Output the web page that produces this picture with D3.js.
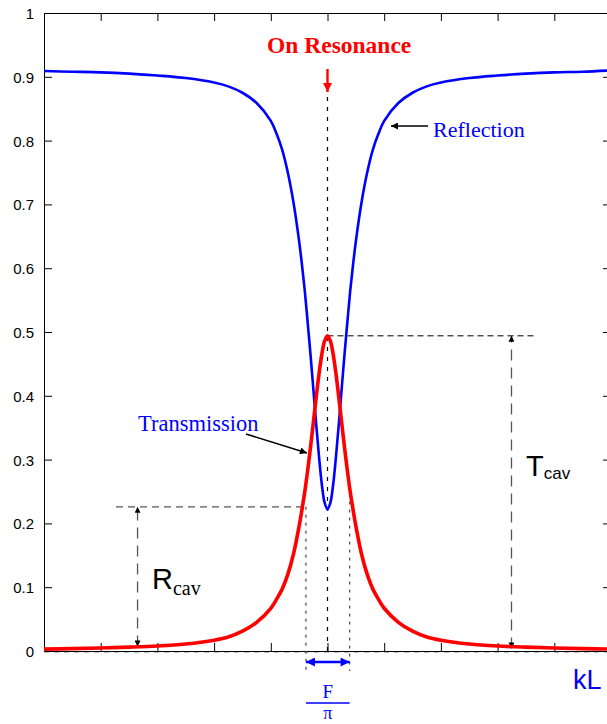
<!DOCTYPE html>
<html>
<head>
<meta charset="utf-8">
<script src="https://cdn.jsdelivr.net/npm/d3@7"></script>
<style>
  html, body { margin: 0; padding: 0; background: #fff; }
  svg { display: block; }
</style>
</head>
<body>
<svg id="chart" width="607" height="724"></svg>
<script>
// ---- data ----
const kL = [-5,-4.5,-4,-3.5,-3,-2.5,-2,-1.75,-1.5,-1.25,-1,-0.9,-0.8,-0.7,-0.6,-0.5,-0.45,-0.4,-0.35,-0.3,-0.25,-0.2,-0.15,-0.1,-0.05,0,
            0.05,0.1,0.15,0.2,0.25,0.3,0.35,0.4,0.45,0.5,0.6,0.7,0.8,0.9,1,1.25,1.5,1.75,2,2.5,3,3.5,4,4.5,5];
const reflection = [0.909,0.908,0.907,0.905,0.902,0.898,0.891,0.885,0.875,0.859,0.831,0.811,0.786,0.750,0.703,0.642,0.605,0.564,0.515,0.465,0.411,0.356,0.305,0.261,0.232,0.222,
                    0.232,0.261,0.305,0.356,0.411,0.465,0.515,0.564,0.605,0.642,0.703,0.750,0.786,0.811,0.831,0.859,0.875,0.885,0.891,0.898,0.902,0.905,0.907,0.908,0.910];
const transmission = [0.003,0.0037,0.0047,0.006,0.0078,0.011,0.017,0.022,0.031,0.045,0.067,0.081,0.097,0.120,0.152,0.196,0.222,0.250,0.283,0.319,0.358,0.397,0.434,0.465,0.486,0.494,
                      0.486,0.465,0.434,0.397,0.358,0.319,0.283,0.250,0.222,0.196,0.152,0.120,0.097,0.081,0.067,0.045,0.031,0.022,0.017,0.011,0.0078,0.006,0.0047,0.0037,0.003];
const xTicks = [-5,-4,-3,-2,-1,0,1,2,3,4,5];
const yTicks = [0,0.1,0.2,0.3,0.4,0.5,0.6,0.7,0.8,0.9,1];
const yTickLabels = ["0","0.1","0.2","0.3","0.4","0.5","0.6","0.7","0.8","0.9","1"];
const tPeak = 0.494;        // T_cav level
const rCavLevel = 0.226;    // R_cav level
const rCavX = -3.35;        // R_cav marker position
const tCavX = 3.245;        // T_cav marker position
const tLineEnd = 3.65;      // end of T_cav dashed line
const fwhmLeft = -0.38, fwhmRight = 0.39;
const fwhmLeftTop = 0.226, fwhmRightTop = 0.247;

// ---- layout ----
const svg = d3.select("#chart");
const W = 607, H = 724;
const pL = 44, pR = 611, pT = 13, pB = 651;
const x = d3.scaleLinear().domain([-5, 5]).range([pL, pR]);
const y = d3.scaleLinear().domain([0, 1]).range([pB, pT]);
const SANS = "'Liberation Sans', Arial, Helvetica, sans-serif";
const SERIF = "'Liberation Serif', 'Times New Roman', Times, serif";

svg.append("rect").attr("width", W).attr("height", H).attr("fill", "#fff");

const defs = svg.append("defs");
defs.append("clipPath").attr("id", "plotclip").append("rect")
  .attr("x", pL).attr("y", pT - 5).attr("width", pR - pL).attr("height", pB - pT + 10);
function marker(id, color, w, l) {
  defs.append("marker").attr("id", id)
    .attr("viewBox", "0 0 10 10").attr("refX", 10).attr("refY", 5)
    .attr("markerUnits", "userSpaceOnUse")
    .attr("markerWidth", l).attr("markerHeight", w)
    .attr("orient", "auto-start-reverse")
    .append("path").attr("d", "M0,0 L10,5 L0,10 Z").attr("fill", color);
}
marker("blk", "#000", 6, 8);
marker("blkBig", "#000", 7, 11);
marker("blu", "#0000ff", 9, 10);
marker("red", "#ff0000", 9, 10);

// ---- axes ----
const gL = svg.append("g").attr("transform", `translate(${pL},0)`)
  .call(d3.axisLeft(y).tickValues(yTicks).tickSize(-8).tickSizeOuter(0).tickPadding(10)
        .tickFormat((d, i) => yTickLabels[i]));
gL.selectAll("text").attr("font-family", SANS).attr("font-size", 15).attr("fill", "#000").attr("dy", "0.36em");
svg.append("g").attr("transform", `translate(${pR},0)`)
  .call(d3.axisRight(y).tickValues(yTicks).tickSize(-8).tickSizeOuter(0).tickFormat(""));
svg.append("g").attr("transform", `translate(0,${pT})`)
  .call(d3.axisTop(x).tickValues(xTicks).tickSize(-8).tickSizeOuter(0).tickFormat(""));
svg.append("line").attr("x1", pL).attr("x2", pR).attr("y1", pB + 1).attr("y2", pB + 1)
  .attr("stroke", "#777").attr("stroke-width", 1).attr("stroke-dasharray", "5,5");
svg.append("g").attr("transform", `translate(0,${pB})`)
  .call(d3.axisBottom(x).tickValues(xTicks).tickSize(-8).tickSizeOuter(0).tickFormat(""));
svg.selectAll(".domain, .tick line").attr("stroke", "#000").attr("stroke-width", 1);

// ---- annotations (behind curves) ----
svg.append("line").attr("x1", x(0)).attr("x2", x(0)).attr("y1", 97).attr("y2", pB)
  .attr("stroke", "#000").attr("stroke-width", 1.2).attr("stroke-dasharray", "4,6");
svg.append("line").attr("x1", x(0)).attr("x2", x(tLineEnd)).attr("y1", y(tPeak)).attr("y2", y(tPeak))
  .attr("stroke", "#000").attr("stroke-width", 1).attr("stroke-dasharray", "6,4");
svg.append("line").attr("x1", x(tCavX)).attr("x2", x(tCavX))
  .attr("y1", y(0.004)).attr("y2", y(tPeak))
  .attr("stroke", "#555").attr("stroke-width", 1.3).attr("stroke-dasharray", "11,7")
  .attr("marker-start", "url(#blk)").attr("marker-end", "url(#blk)");
svg.append("line").attr("x1", 116).attr("x2", x(fwhmLeft)).attr("y1", y(rCavLevel)).attr("y2", y(rCavLevel))
  .attr("stroke", "#555").attr("stroke-width", 1.2).attr("stroke-dasharray", "7,5");
svg.append("line").attr("x1", x(rCavX)).attr("x2", x(rCavX))
  .attr("y1", y(0.007)).attr("y2", y(rCavLevel))
  .attr("stroke", "#555").attr("stroke-width", 1.3).attr("stroke-dasharray", "11,7")
  .attr("marker-start", "url(#blk)").attr("marker-end", "url(#blk)");
[[fwhmLeft, fwhmLeftTop], [fwhmRight, fwhmRightTop]].forEach(([fx, ft]) => {
  svg.append("line").attr("x1", x(fx)).attr("x2", x(fx)).attr("y1", y(ft)).attr("y2", 671)
    .attr("stroke", "#555").attr("stroke-width", 1.3).attr("stroke-dasharray", "3,5");
});

// ---- curves ----
const pts = (vals) => kL.map((k, i) => [k, vals[i]]);
const line = d3.line().x(d => x(d[0])).y(d => y(d[1])).curve(d3.curveCatmullRom.alpha(0.5));
const plot = svg.append("g").attr("clip-path", "url(#plotclip)");
plot.append("path").datum(pts(reflection)).attr("d", line)
  .attr("fill", "none").attr("stroke", "#0000ff").attr("stroke-width", 2.6).attr("stroke-linejoin", "round");
plot.append("path").datum(pts(transmission)).attr("d", line)
  .attr("fill", "none").attr("stroke", "#ff0000").attr("stroke-width", 3.6).attr("stroke-linejoin", "round");

// ---- labels ----
svg.append("text").attr("x", 267).attr("y", 53).text("On Resonance")
  .attr("font-family", SERIF).attr("font-size", 23.5).attr("font-weight", "bold").attr("fill", "#ff0000");
svg.append("line").attr("x1", x(0)).attr("x2", x(0)).attr("y1", 69).attr("y2", 92)
  .attr("stroke", "#ff0000").attr("stroke-width", 2.4).attr("marker-end", "url(#red)");

svg.append("text").attr("x", 433).attr("y", 137).text("Reflection")
  .attr("font-family", SERIF).attr("font-size", 22).attr("fill", "#0000ff");
svg.append("line").attr("x1", 428).attr("x2", 391).attr("y1", 126).attr("y2", 126)
  .attr("stroke", "#000").attr("stroke-width", 1.6).attr("marker-end", "url(#blkBig)");

svg.append("text").attr("x", 138).attr("y", 431).text("Transmission")
  .attr("font-family", SERIF).attr("font-size", 22.5).attr("fill", "#0000ff");
svg.append("line").attr("x1", 246).attr("x2", 307).attr("y1", 434).attr("y2", 453)
  .attr("stroke", "#000").attr("stroke-width", 1.6).attr("marker-end", "url(#blkBig)");

const tc = svg.append("text").attr("x", 526).attr("y", 476).attr("font-family", SANS).attr("fill", "#000");
tc.append("tspan").attr("font-size", 29).text("T");
tc.append("tspan").attr("font-size", 17).attr("dy", 3).text("cav");

const rc = svg.append("text").attr("x", 152).attr("y", 589).attr("fill", "#000");
rc.append("tspan").attr("font-family", SANS).attr("font-size", 29).text("R");
rc.append("tspan").attr("font-family", SERIF).attr("font-size", 20).attr("dy", 6).text("cav");

svg.append("line").attr("x1", x(fwhmLeft)).attr("x2", x(fwhmRight)).attr("y1", 662).attr("y2", 662)
  .attr("stroke", "#0000ff").attr("stroke-width", 2.4)
  .attr("marker-start", "url(#blu)").attr("marker-end", "url(#blu)");
const fc = (x(fwhmLeft) + x(fwhmRight)) / 2;
svg.append("text").attr("x", fc).attr("y", 698).attr("text-anchor", "middle").text("F")
  .attr("font-family", SERIF).attr("font-size", 19).attr("fill", "#0000ff");
svg.append("line").attr("x1", x(fwhmLeft)).attr("x2", x(fwhmRight)).attr("y1", 703).attr("y2", 703)
  .attr("stroke", "#0000ff").attr("stroke-width", 1.3);
svg.append("text").attr("x", fc).attr("y", 719).attr("text-anchor", "middle").text("π")
  .attr("font-family", SERIF).attr("font-size", 18).attr("fill", "#0000ff");

svg.append("text").attr("x", 573).attr("y", 689).text("kL")
  .attr("font-family", SANS).attr("font-size", 27).attr("fill", "#0000ff");
</script>
</body>
</html>
